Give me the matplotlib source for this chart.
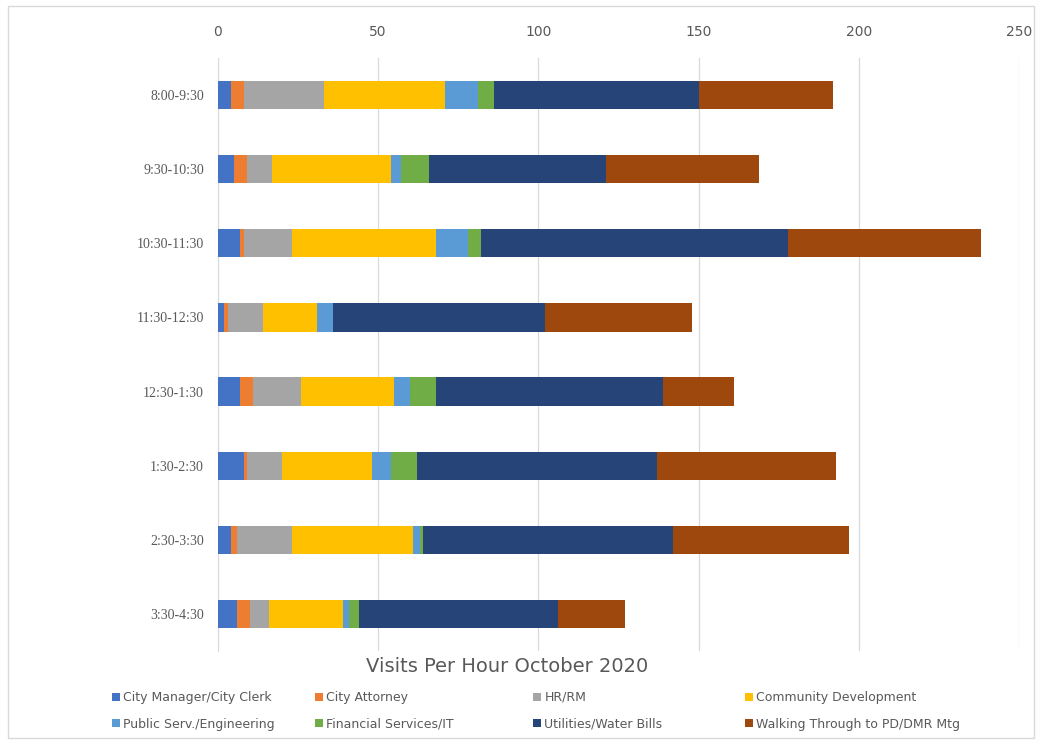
import matplotlib.pyplot as plt
import numpy as np

hours = ["8:00-9:30", "9:30-10:30", "10:30-11:30", "11:30-12:30",
         "12:30-1:30", "1:30-2:30", "2:30-3:30", "3:30-4:30"]

city_manager = [4, 5, 7, 2, 7, 8, 4, 6]
city_attorney = [4, 4, 1, 1, 4, 1, 2, 4]
hr_rm = [25, 8, 15, 11, 15, 11, 17, 6]
community_dev = [38, 37, 45, 17, 29, 28, 38, 23]
public_serv = [10, 3, 10, 5, 5, 6, 2, 2]
financial = [5, 9, 4, 0, 8, 8, 1, 3]
utilities = [64, 55, 96, 66, 71, 75, 78, 62]
walking = [42, 48, 60, 46, 22, 56, 55, 21]

series = [
    ("City Manager/City Clerk", city_manager, "#4472C4"),
    ("City Attorney", city_attorney, "#ED7D31"),
    ("HR/RM", hr_rm, "#A5A5A5"),
    ("Community Development", community_dev, "#FFC000"),
    ("Public Serv./Engineering", public_serv, "#5B9BD5"),
    ("Financial Services/IT", financial, "#70AD47"),
    ("Utilities/Water Bills", utilities, "#264478"),
    ("Walking Through to PD/DMR Mtg", walking, "#9E480E"),
]

fig = plt.figure(figsize=(10.42, 7.44), dpi=100)
ax = fig.add_axes([0.2092, 0.125, 0.7687, 0.797])

y = np.arange(len(hours))
left = np.zeros(len(hours))
handles = []
for name, vals, color in series:
    b = ax.barh(y, vals, left=left, height=0.38, color=color, label=name, zorder=3)
    handles.append(b)
    left += np.array(vals)

ax.set_xlim(0, 250)
ax.set_ylim(7.5, -0.5)
ax.set_xticks(np.arange(0, 251, 50))
ax.xaxis.tick_top()
ax.set_yticks(y)
ax.set_yticklabels(hours, family="Liberation Serif", fontsize=10, color="#595959")
ax.tick_params(axis="x", labelsize=10, labelcolor="#595959", length=0, pad=14)
ax.tick_params(axis="y", length=0, pad=10)
ax.grid(axis="x", color="#D9D9D9", linewidth=0.9, zorder=0)
for s in ["top", "right", "bottom"]:
    ax.spines[s].set_visible(False)
ax.spines["left"].set_color("#D9D9D9")

fig.text(507 / 1042, 1 - 666 / 744, "Visits Per Hour October 2020",
         ha="center", va="center", fontsize=14, color="#595959")

# four legend columns, two rows each (row-wise order like the reference)
col_x = [112, 315, 533, 745]
for c, x in enumerate(col_x):
    leg = fig.legend(handles=[handles[c], handles[c + 4]], loc="upper left",
                     bbox_to_anchor=(x / 1042, 1 - 691 / 744),
                     frameon=False, fontsize=9, handlelength=0.6, handleheight=0.6,
                     handletextpad=0.3, labelspacing=1.1, borderaxespad=0, borderpad=0)
    for t in leg.get_texts():
        t.set_color("#595959")

fig.patches.append(plt.Rectangle((0.008, 0.008), 0.984, 0.984, transform=fig.transFigure,
                                 fill=False, edgecolor="#D9D9D9", linewidth=1))

fig.savefig("out.png", dpi=100)
